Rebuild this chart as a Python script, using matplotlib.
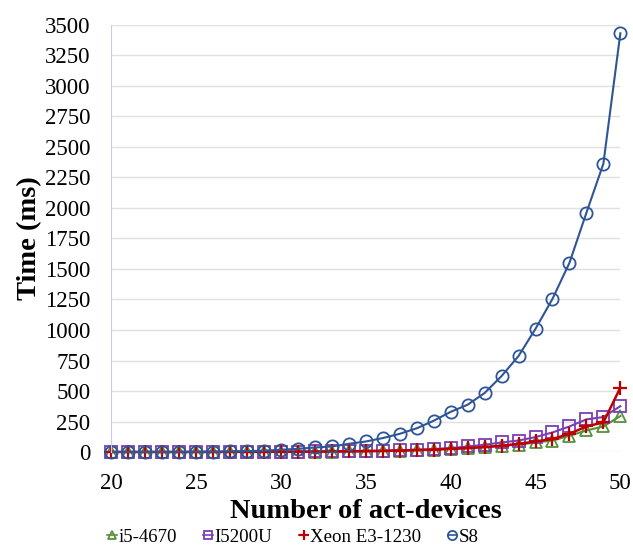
import numpy as np
import matplotlib.pyplot as plt

plt.rcParams['font.family'] = ['Liberation Serif', 'DejaVu Serif']

devices = list(range(20, 51))

# values (ms)
i5_4670 = [1, 1, 1, 1, 1, 1, 1, 1, 2, 2, 2, 3, 3, 4, 5, 6, 8, 10, 14, 20,
           27, 33, 41, 52, 60, 79, 95, 134, 177, 210, 295]
i5200u = [1, 1, 1, 1, 1, 1, 2, 2, 2, 3, 3, 4, 5, 6, 8, 10, 12, 15, 19, 25,
          33, 46, 60, 79, 95, 123, 161, 210, 268, 287, 376]
xeon = [1, 1, 1, 1, 1, 1, 1, 2, 2, 2, 3, 3, 4, 5, 6, 8, 10, 13, 17, 20,
        27, 33, 41, 52, 68, 87, 107, 150, 210, 243, 528]
s8 = [1, 1, 1, 1, 1, 2, 3, 5, 8, 12, 19, 27, 38, 46, 68, 87, 115, 150, 195,
      257, 330, 388, 484, 623, 787, 1010, 1255, 1550, 1960, 2362, 3430]

fig, ax = plt.subplots(figsize=(6.33, 5.5), dpi=100)
fig.subplots_adjust(left=0.176, right=0.98, top=0.955, bottom=0.178)

ax.plot(devices, i5_4670, color='#55913A', lw=1.5, marker='^', ms=8,
        mfc='none', mew=1.3, clip_on=False, label='i5-4670')
ax.plot(devices, i5200u, color='#7B3FB5', lw=1.5, marker='s', ms=8,
        mfc='none', mew=1.3, clip_on=False, label='I5200U')
ax.plot(devices, xeon, color='#C00000', lw=1.8, marker='+', ms=10,
        mew=1.6, clip_on=False, label='Xeon E3-1230')
ax.plot(devices, s8, color='#2F5597', lw=1.5, marker='o', ms=8.8,
        mfc='none', mew=1.3, clip_on=False, label='S8')

ax.set_xlim(20, 50)
ax.set_ylim(0, 3500)
ax.set_xticks(range(20, 51, 5))
ax.set_yticks(range(0, 3501, 250))
ax.tick_params(axis='both', length=0, labelsize=16.5, colors='black')
ax.tick_params(axis='x', pad=15)
ax.tick_params(axis='y', pad=15)

ax.grid(axis='y', color='#E0E0E0', lw=1)
ax.set_axisbelow(True)
for s in ['top', 'right', 'bottom']:
    ax.spines[s].set_visible(False)
ax.spines['left'].set_color('#C8CCE8')
ax.spines['left'].set_linewidth(0.8)

ax.set_xlabel('Number of act-devices', fontsize=20.5, fontweight='bold', labelpad=4)
ax.set_ylabel('Time (ms)', fontsize=20.5, fontweight='bold', labelpad=2)

leg = fig.legend(loc='upper center', ncol=4, frameon=False, fontsize=13.6,
                 handlelength=0.5, handletextpad=0.1, columnspacing=1.4,
                 borderaxespad=0, markerscale=0.75)
leg.set_bbox_to_anchor((0.463, 0.053), transform=fig.transFigure)
for h in leg.legend_handles:
    h.set_linewidth(1.2)

fig.savefig('out.png', dpi=100)
